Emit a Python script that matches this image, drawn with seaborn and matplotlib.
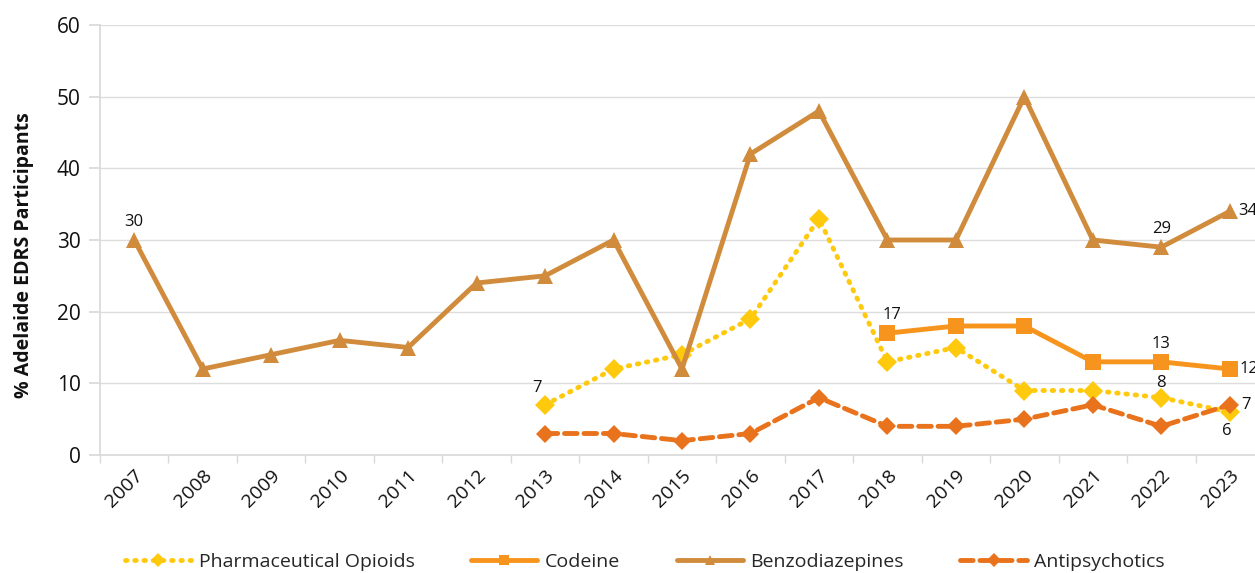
import matplotlib
matplotlib.use("Agg")
import matplotlib.pyplot as plt
import seaborn as sns
import pandas as pd
import numpy as np

years = [str(y) for y in range(2007, 2024)]
benzo = [30, 12, 14, 16, 15, 24, 25, 30, 12, 42, 48, 30, 30, 50, 30, 29, 34]
pharm_years = [str(y) for y in range(2013, 2024)]
pharm = [7, 12, 14, 19, 33, 13, 15, 9, 9, 8, 6]
codeine_years = [str(y) for y in range(2018, 2024)]
codeine = [17, 18, 18, 13, 13, 12]
anti_years = [str(y) for y in range(2013, 2024)]
anti = [3, 3, 2, 3, 8, 4, 4, 5, 7, 4, 7]

sns.set_theme(style="white")
plt.rcParams['font.family'] = ['Open Sans', 'DejaVu Sans']

fig = plt.figure(figsize=(12.55, 5.73), dpi=100)
ax = fig.add_axes([100/1255, 1-455/573, 1164/1255, 430/573])

pos = {y: i for i, y in enumerate(years)}

c_pharm = "#FFC90E"
c_cod = "#F7941D"
c_benzo = "#D08C3C"
c_anti = "#E8731C"

def draw(yrs, vals, color, marker, ls, label, ms, lw=3.5):
    df = pd.DataFrame({"x": [pos[y] for y in yrs], "y": vals})
    sns.lineplot(data=df, x="x", y="y", ax=ax, color=color, marker=marker,
                 linestyle=ls, linewidth=lw, markersize=ms, markeredgewidth=0,
                 label=label, zorder=3)
    return df

draw(pharm_years, pharm, c_pharm, "D", (0, (0.3, 1.6)), "Pharmaceutical Opioids", 10)
draw(codeine_years, codeine, c_cod, "s", "-", "Codeine", 11)
draw(years, benzo, c_benzo, "^", "-", "Benzodiazepines", 11)
draw(anti_years, anti, c_anti, "D", (0, (2.6, 1.4)), "Antipsychotics", 9)

for line in ax.get_lines():
    line.set_dash_capstyle("round")

ax.set_xlim(-0.5, 16.5)
ax.set_ylim(0, 60)
ax.set_yticks(range(0, 61, 10))
ax.set_xticks(range(len(years)))
ax.set_xticklabels(years, rotation=45, ha="right", rotation_mode="anchor", fontsize=14)
ax.set_xticks(np.arange(-0.5, 16.6, 1), minor=True)
ax.tick_params(axis="x", which="major", length=0, pad=8)
ax.tick_params(axis="x", which="minor", length=6, color="#D9D9D9", bottom=True)
ax.tick_params(axis="y", which="major", length=8, color="#D9D9D9", left=True, labelsize=15, pad=6, labelcolor="#111111")
ax.tick_params(axis="x", labelcolor="#111111")
ax.grid(axis="y", color="#DDDDDD", linewidth=1)
ax.set_axisbelow(True)
for s in ["top", "right"]:
    ax.spines[s].set_visible(False)
ax.spines["left"].set_color("#D9D9D9")
ax.spines["bottom"].set_color("#D9D9D9")
ax.set_xlabel("")
ax.set_ylabel("% Adelaide EDRS Participants", fontsize=14, fontweight="bold", color="#111111")
ax.yaxis.set_label_coords((34 - 100) / 1164, (455 - 255) / 430)

def lab(yr, val, dx, dy, ha="center", va="bottom"):
    ax.annotate(str(val), (pos[yr], val), xytext=(dx, dy), textcoords="offset points",
                ha=ha, va=va, fontsize=12, color="#111111")

lab("2007", 30, 0, 7)
lab("2022", 29, 0, 7)
lab("2023", 34, 6, 0, ha="left", va="center")
lab("2018", 17, 3, 7)
lab("2022", 13, 0, 7)
lab("2023", 12, 7, 0, ha="left", va="center")
lab("2013", 7, -6, 6)
lab("2022", 8, 0, 5)
lab("2023", 6, -2, -8, va="top")
lab("2023", 7, 8, 0, ha="left", va="center")

leg = ax.legend(loc="center", bbox_to_anchor=(545/1164, -(562-455)/430), ncol=4, frameon=False,
                fontsize=14, handlelength=3.4, columnspacing=2.9, handletextpad=0.4)
for h in leg.legend_handles:
    h.set_markersize(7)

fig.savefig("out.png", dpi=100)
